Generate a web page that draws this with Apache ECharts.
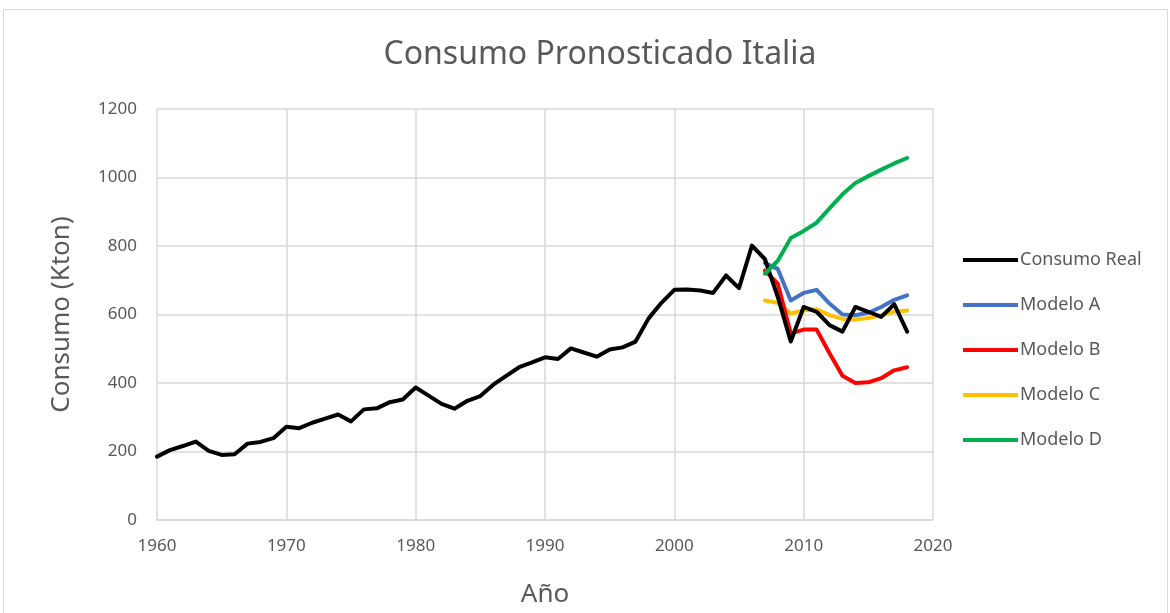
<!DOCTYPE html>
<html>
<head>
<meta charset="utf-8">
<script src="https://cdn.jsdelivr.net/npm/echarts@6/dist/echarts.min.js"></script>
<style>
  html, body { margin: 0; padding: 0; background: #fff; overflow: hidden; }
  #frame { position: absolute; left: 3px; top: 9px; width: 1163px; height: 620px; border: 1px solid #d9d9d9; }
  #chart { position: absolute; left: 0; top: 0; width: 1170px; height: 613px; }
</style>
</head>
<body>
<div id="frame"></div>
<div id="chart"></div>
<script>
// años
const yearsReal = [];
for (let y = 1960; y <= 2018; y++) yearsReal.push(y);
const yearsModel = [2007, 2008, 2009, 2010, 2011, 2012, 2013, 2014, 2015, 2016, 2017, 2018];

const consumoReal = [
  185, 204, 216, 229, 202, 190, 192, 223, 228, 239,
  272, 268, 284, 296, 308, 288, 323, 326, 344, 352,
  387, 363, 339, 325, 348, 362, 395, 421, 446, 460,
  475, 470, 501, 489, 477, 498, 504, 521, 588, 634,
  672, 673, 670, 663, 714, 677, 801, 762, 651, 521,
  622, 608, 569, 550, 622, 608, 593, 630, 550
];
const modeloA = [750, 733, 641, 663, 672, 632, 600, 598, 605, 622, 643, 656];
const modeloB = [728, 690, 545, 556, 556, 487, 421, 400, 402, 414, 437, 446];
const modeloC = [641, 634, 603, 612, 615, 598, 587, 585, 590, 598, 608, 612];
const modeloD = [719, 757, 823, 844, 868, 910, 951, 984, 1004, 1023, 1041, 1057];

function pairs(xs, ys) {
  return xs.map(function (x, i) { return [x, ys[i]]; });
}

const font = 'Noto Sans';
const txt = '#595959';

function serie(name, xs, ys, color, z) {
  return {
    name: name,
    type: 'line',
    data: pairs(xs, ys),
    showSymbol: false,
    symbol: 'none',
    z: z,
    lineStyle: { color: color, width: 4, join: 'round', cap: 'round' },
    itemStyle: { color: color }
  };
}

function plain(v) { return String(v); }

const chart = echarts.init(document.getElementById('chart'));
chart.setOption({
  animation: false,
  title: {
    text: 'Consumo Pronosticado Italia',
    left: 595,
    textAlign: 'center',
    top: 34,
    textStyle: { fontFamily: font, fontSize: 32, fontWeight: 'normal', color: txt }
  },
  legend: {
    orient: 'vertical',
    left: 958,
    top: 246,
    itemWidth: 55,
    itemHeight: 4,
    itemGap: 27,
    icon: 'rect',
    textStyle: { fontFamily: font, fontSize: 18, color: txt, padding: [0, 0, 0, -3] },
    data: ['Consumo Real', 'Modelo A', 'Modelo B', 'Modelo C', 'Modelo D']
  },
  grid: { left: 157, right: 237, top: 109, bottom: 89, containLabel: false },
  xAxis: {
    type: 'value',
    min: 1960,
    max: 2020,
    interval: 10,
    name: 'Año',
    nameLocation: 'middle',
    nameGap: 62,
    nameTextStyle: { fontFamily: font, fontSize: 26, color: txt },
    axisLine: { show: true, lineStyle: { color: '#d9d9d9', width: 1.5 } },
    axisTick: { show: false },
    axisLabel: { fontFamily: font, fontSize: 17, color: txt, margin: 18, formatter: plain },
    splitLine: { show: true, lineStyle: { color: '#d9d9d9', width: 1.5 } }
  },
  yAxis: {
    type: 'value',
    min: 0,
    max: 1200,
    interval: 200,
    name: 'Consumo (Kton)',
    nameLocation: 'middle',
    nameGap: 82,
    nameTextStyle: { fontFamily: font, fontSize: 26, color: txt },
    axisLine: { show: false },
    axisTick: { show: false },
    axisLabel: { fontFamily: font, fontSize: 17, color: txt, margin: 20, formatter: plain },
    splitLine: { show: true, lineStyle: { color: '#d9d9d9', width: 1.5 } }
  },
  series: [
    serie('Consumo Real', yearsReal, consumoReal, '#000000', 5),
    serie('Modelo A', yearsModel, modeloA, '#4472c4', 4),
    serie('Modelo B', yearsModel, modeloB, '#ff0000', 3),
    serie('Modelo C', yearsModel, modeloC, '#ffc000', 2),
    serie('Modelo D', yearsModel, modeloD, '#00b050', 6)
  ]
});
</script>
</body>
</html>
